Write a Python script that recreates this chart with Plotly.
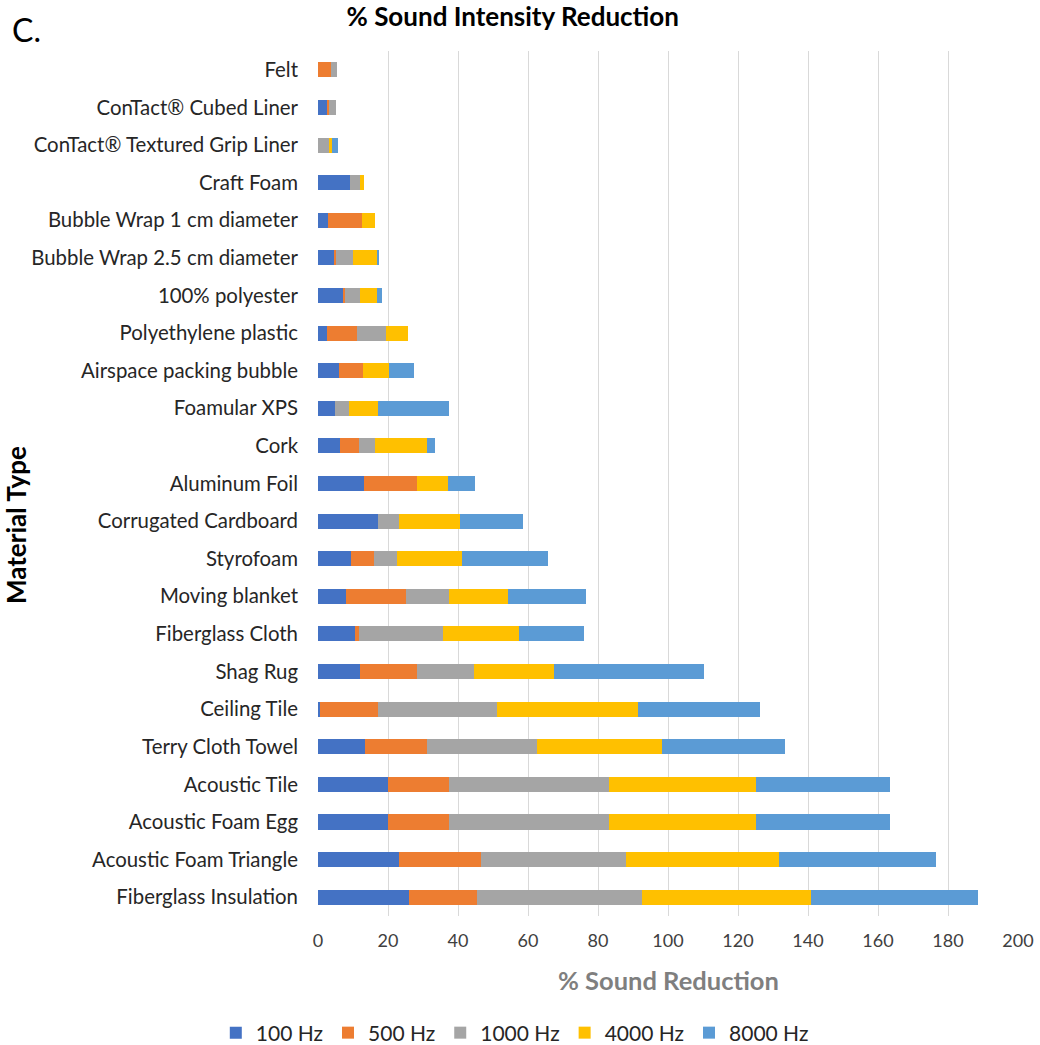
import plotly.graph_objects as go

# Materials, listed top to bottom as they appear on the chart
materials = [
    "Felt",
    "ConTact® Cubed Liner",
    "ConTact® Textured Grip Liner",
    "Craft Foam",
    "Bubble Wrap 1 cm diameter",
    "Bubble Wrap 2.5 cm diameter",
    "100% polyester",
    "Polyethylene plastic",
    "Airspace packing bubble",
    "Foamular XPS",
    "Cork",
    "Aluminum Foil",
    "Corrugated Cardboard",
    "Styrofoam",
    "Moving blanket",
    "Fiberglass Cloth",
    "Shag Rug",
    "Ceiling Tile",
    "Terry Cloth Towel",
    "Acoustic Tile",
    "Acoustic Foam Egg",
    "Acoustic Foam Triangle",
    "Fiberglass Insulation",
]

# % sound reduction at each frequency
hz_100 = [0.0, 2.8, 0.0, 9.1, 2.8, 4.8, 7.1, 2.5, 6.0, 4.8, 6.3, 13.0, 17.1, 9.4, 7.9, 10.5, 11.9, 0.6, 13.3, 20.1, 20.1, 23.2, 26.0]
hz_500 = [3.6, 0.4, 0.0, 0.0, 9.7, 0.3, 0.6, 8.7, 6.8, 0.0, 5.4, 15.2, 0.0, 6.5, 17.2, 1.1, 16.4, 16.4, 17.7, 17.4, 17.4, 23.4, 19.5]
hz_1000 = [1.8, 1.9, 3.1, 2.9, 0.0, 5.0, 4.3, 8.2, 0.0, 4.0, 4.5, 0.0, 6.0, 6.6, 12.4, 24.1, 16.2, 34.1, 31.5, 45.6, 45.6, 41.3, 47.0]
hz_4000 = [0.0, 0.0, 0.8, 1.0, 3.7, 6.8, 4.9, 6.3, 7.4, 8.3, 14.8, 8.8, 17.4, 18.5, 16.9, 21.6, 22.9, 40.3, 35.7, 42.1, 42.1, 43.7, 48.3]
hz_8000 = [0.0, 0.0, 1.8, 0.0, 0.0, 0.3, 1.5, 0.0, 7.2, 20.3, 2.4, 7.9, 18.2, 24.6, 22.2, 18.8, 43.0, 34.9, 35.1, 38.1, 38.1, 45.0, 47.9]

series = [
    ("100 Hz", hz_100, "#4472C4"),
    ("500 Hz", hz_500, "#ED7D31"),
    ("1000 Hz", hz_1000, "#A5A5A5"),
    ("4000 Hz", hz_4000, "#FFC000"),
    ("8000 Hz", hz_8000, "#5B9BD5"),
]

FONT = "Lato, 'Open Sans', sans-serif"

# plot-area edges in pixels
LEFT, RIGHT, TOP, BOTTOM = 318, 1018, 51, 916
PW, PH = RIGHT - LEFT, BOTTOM - TOP

fig = go.Figure()
for name, vals, color in series:
    fig.add_trace(go.Bar(
        name=name,
        y=materials,
        x=vals,
        orientation="h",
        marker=dict(color=color, line=dict(width=0)),
    ))

fig.update_layout(
    barmode="stack",
    bargap=0.6,
    width=1040,
    height=1045,
    paper_bgcolor="white",
    plot_bgcolor="white",
    font=dict(family=FONT, size=19, color="#262626"),
    margin=dict(l=LEFT, r=1040 - RIGHT, t=TOP, b=1045 - BOTTOM, autoexpand=False),
    title=dict(
        text="<b>% Sound Intensity Reduction</b>",
        x=0.493, xanchor="center", xref="container",
        y=0.984, yanchor="middle", yref="container",
        font=dict(family=FONT, size=26, color="#000000"),
    ),
    xaxis=dict(
        range=[0, 200],
        dtick=20,
        showgrid=True,
        gridcolor="#D9D9D9",
        gridwidth=1,
        zeroline=False,
        showline=False,
        ticks="",
        ticklabelstandoff=12,
        tickfont=dict(family=FONT, size=18, color="#404040"),
        fixedrange=True,
    ),
    yaxis=dict(
        autorange="reversed",
        showgrid=False,
        showline=False,
        ticks="",
        ticklabelstandoff=19,
        tickfont=dict(family=FONT, size=20.4, color="#262626"),
        fixedrange=True,
    ),
    legend=dict(
        orientation="h",
        xref="container", yref="container",
        x=0.495, xanchor="center",
        y=1 - 1033 / 1045, yanchor="middle",
        font=dict(family=FONT, size=21, color="#262626"),
        traceorder="normal",
        itemwidth=30,
    ),
    annotations=[
        dict(text="C.", xref="paper", yref="paper",
             x=(10 - LEFT) / PW, y=1 + (TOP - 30) / PH,
             xanchor="left", yanchor="middle", showarrow=False,
             font=dict(family=FONT, size=32, color="#000000")),
        dict(text="<b>Material Type</b>", xref="paper", yref="paper",
             x=(16 - LEFT) / PW, y=(BOTTOM - 525) / PH,
             xanchor="center", yanchor="middle", textangle=-90, showarrow=False,
             font=dict(family=FONT, size=26, color="#000000")),
        dict(text="<b>% Sound Reduction</b>", xref="paper", yref="paper",
             x=(668 - LEFT) / PW, y=-(980 - BOTTOM) / PH,
             xanchor="center", yanchor="middle", showarrow=False,
             font=dict(family=FONT, size=25.5, color="#7F7F7F")),
    ],
)

fig.write_html("out.html")
